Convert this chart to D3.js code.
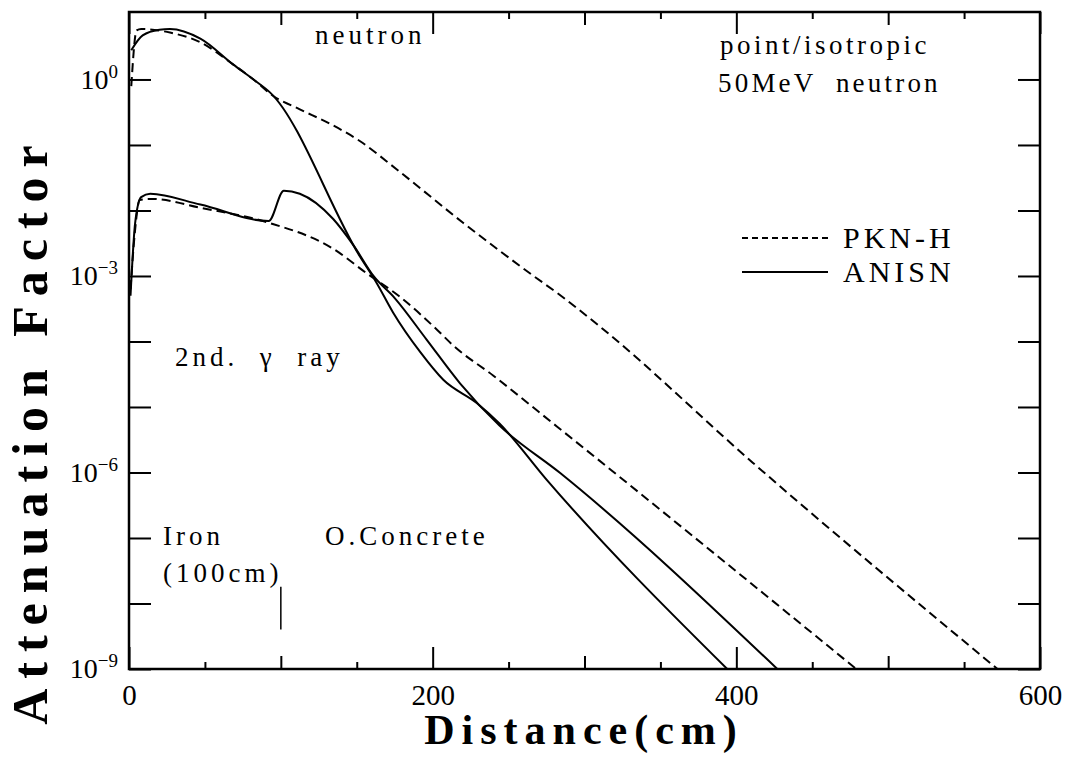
<!DOCTYPE html>
<html>
<head>
<meta charset="utf-8">
<script src="https://cdn.jsdelivr.net/npm/d3@7/dist/d3.min.js"></script>
<style>
    body { margin: 0; background: #fff; }
    text { font-family: "Liberation Serif", "Times New Roman", serif; fill: #000; }
</style>
</head>
<body>
<div id="chart"></div>
<script>
// values (distance in cm, attenuation factor)
const neutronPknX = [1.5, 5, 8, 27, 47, 68.5, 82, 95, 112.5, 132.5, 152, 176, 220, 264, 286, 310, 411, 572];
const neutronPknY = [0.79, 5.6, 5.9, 5.2, 3.7, 1.7, 1.0, 0.56, 0.35, 0.21, 0.115, 0.043, 6.5e-3, 1.1e-3, 4.7e-4, 1.7e-4, 1.4e-6, 1e-9];

const neutronAnisnX = [1.5, 9, 20, 27, 47, 68.5, 82, 93, 152, 163, 174, 192, 207, 229, 244, 275, 394];
const neutronAnisnY = [2.8, 4.7, 5.75, 5.9, 4.2, 1.7, 1.0, 0.63, 2.0e-3, 7.9e-4, 2.75e-4, 6.8e-5, 2.6e-5, 1.15e-5, 5.6e-6, 7.8e-7, 1e-9];

const gammaPknX = [1, 4, 7, 15, 47, 91, 134.5, 156.5, 178, 203, 213.5, 240, 282, 479];
const gammaPknY = [6.3e-4, 5.0e-3, 1.45e-2, 1.5e-2, 1.1e-2, 6.6e-3, 2.6e-3, 1.1e-3, 4.9e-4, 1.5e-4, 8.7e-5, 3.0e-5, 5.0e-6, 1e-9];

const gammaAnisnX = [1, 4, 8, 14, 47, 92, 102, 112.5, 134.5, 148, 161, 175, 196, 218, 244, 284, 427];
const gammaAnisnY = [5.0e-4, 6.3e-3, 1.6e-2, 1.8e-2, 1.23e-2, 6.9e-3, 2.0e-2, 1.8e-2, 7.4e-3, 2.9e-3, 1.0e-3, 4.6e-4, 1.07e-4, 2.3e-5, 5.2e-6, 9.8e-7, 1e-9];

const xTicks = [0, 50, 100, 150, 200, 250, 300, 350, 400, 450, 500, 550, 600];
const xLabels = [0, 200, 400, 600];
const yTicks = [1e-9, 1e-8, 1e-7, 1e-6, 1e-5, 1e-4, 1e-3, 1e-2, 1e-1, 1e0];
const yLabels = [1e-9, 1e-6, 1e-3, 1e0];

const legendNames = ['PKN-H', 'ANISN'];

drawChart();

function drawChart() {

    const width = 1070;
    const height = 758;
    const margin = {top: 12, right: 30, bottom: 89, left: 129};

    // SCALES
    const x = d3.scaleLinear()
        .domain([0, 600])
        .range([margin.left, width - margin.right]);

    // top of the frame sits a little above 10^1
    const y = d3.scaleLog()
        .domain([1e-9, Math.pow(10, 1.03)])
        .range([height - margin.bottom, margin.top]);

    const svg = d3.select('#chart').append('svg')
        .attr('width', width)
        .attr('height', height)
        .attr('viewBox', [0, 0, width, height]);

    svg.append('clipPath')
        .attr('id', 'plot-clip')
        .append('rect')
            .attr('x', margin.left)
            .attr('y', margin.top)
            .attr('width', width - margin.left - margin.right)
            .attr('height', height - margin.top - margin.bottom);

    // tick length depends on the distance value
    const xTickLen = d => (d % 200 === 0) ? 22 : (d % 100 === 0 ? 13 : 7);

    // AXES
    // bottom
    svg.append('g')
        .attr('transform', `translate(0,${height - margin.bottom})`)
        .call(d3.axisBottom(x)
                .tickValues(xTicks)
                .tickSize(0)
                .tickPadding(15)
                .tickFormat(d => xLabels.includes(d) ? d : ''))
        .call(g => g.select('.domain').remove())
        .call(g => g.selectAll('.tick line')
                .attr('stroke', '#000')
                .attr('stroke-width', 2)
                .attr('y2', d => -xTickLen(d)))
        .call(g => g.selectAll('.tick text')
                .attr('font-size', '29px')
                .attr('font-family', '"Liberation Serif", serif'));

    // top (ticks only)
    svg.append('g')
        .attr('transform', `translate(0,${margin.top})`)
        .call(d3.axisTop(x)
                .tickValues(xTicks)
                .tickSize(0)
                .tickFormat(''))
        .call(g => g.select('.domain').remove())
        .call(g => g.selectAll('.tick line')
                .attr('stroke', '#000')
                .attr('stroke-width', 2)
                .attr('y2', d => xTickLen(d)));

    // left
    svg.append('g')
        .attr('transform', `translate(${margin.left},0)`)
        .call(d3.axisLeft(y)
                .tickValues(yTicks)
                .tickSize(-22)
                .tickPadding(11)
                .tickFormat(d => yLabels.includes(d) ? 'x' : ''))
        .call(g => g.select('.domain').remove())
        .call(g => g.selectAll('.tick line')
                .attr('stroke', '#000')
                .attr('stroke-width', 2))
        .call(g => g.selectAll('.tick text')
                .attr('font-size', '28px')
                .attr('font-family', '"Liberation Serif", serif')
                .each(function(d) {
                    const t = d3.select(this);
                    if (!yLabels.includes(d)) { return; }
                    const e = Math.round(Math.log10(d));
                    t.text(null);
                    t.append('tspan').text('10');
                    t.append('tspan')
                        .attr('dy', '-11')
                        .attr('font-size', '19px')
                        .text(e < 0 ? '\u2212' + (-e) : e);
                }));

    // right (ticks only)
    svg.append('g')
        .attr('transform', `translate(${width - margin.right},0)`)
        .call(d3.axisRight(y)
                .tickValues(yTicks)
                .tickSize(-22)
                .tickFormat(''))
        .call(g => g.select('.domain').remove())
        .call(g => g.selectAll('.tick line')
                .attr('stroke', '#000')
                .attr('stroke-width', 2));

    // frame
    svg.append('rect')
        .attr('x', margin.left)
        .attr('y', margin.top)
        .attr('width', width - margin.left - margin.right)
        .attr('height', height - margin.top - margin.bottom)
        .attr('fill', 'none')
        .attr('stroke', '#000')
        .attr('stroke-width', 2.5);

    // CURVES
    const line = d3.line()
        .x(d => x(d[0]))
        .y(d => y(d[1]))
        .curve(d3.curveMonotoneX);

    const curves = [
        {xs: neutronPknX, ys: neutronPknY, dash: '9,5'},
        {xs: neutronAnisnX, ys: neutronAnisnY, dash: null},
        {xs: gammaPknX, ys: gammaPknY, dash: '9,5'},
        {xs: gammaAnisnX, ys: gammaAnisnY, dash: null}
    ];

    svg.append('g')
        .attr('clip-path', 'url(#plot-clip)')
        .selectAll('path')
        .data(curves)
        .join('path')
            .attr('d', c => line(d3.zip(c.xs, c.ys)))
            .attr('fill', 'none')
            .attr('stroke', '#000')
            .attr('stroke-width', 2)
            .attr('stroke-dasharray', c => c.dash);

    // iron / concrete boundary marker
    svg.append('line')
        .attr('x1', x(100))
        .attr('x2', x(100))
        .attr('y1', y(1.8e-8))
        .attr('y2', y(4e-9))
        .attr('stroke', '#000')
        .attr('stroke-width', 1.5);

    // LABELS inside the plot
    const note = (tx, ty, str, ls) => svg.append('text')
        .attr('x', tx)
        .attr('y', ty)
        .attr('font-size', '27px')
        .attr('letter-spacing', (ls || 4) + 'px')
        .style('white-space', 'pre')
        .text(str);

    note(315, 44, 'neutron');
    note(720, 54, 'point/isotropic', 3.5);
    note(718, 92, '50MeV  neutron', 3.2);
    note(175, 366, '2nd.  \u03b3  ray');
    note(163, 545, 'Iron');
    note(325, 545, 'O.Concrete');
    note(163, 582, '(100cm)');

    // LEGEND
    const legend = svg.append('g')
        .attr('transform', `translate(742, 238)`);
    legend.selectAll('line')
        .data(legendNames)
        .join('line')
            .attr('x1', 0)
            .attr('x2', 86)
            .attr('y1', (d, i) => i * 34)
            .attr('y2', (d, i) => i * 34)
            .attr('stroke', '#000')
            .attr('stroke-width', 2)
            .attr('stroke-dasharray', (d, i) => i === 0 ? '6,4' : null);
    legend.selectAll('text')
        .data(legendNames)
        .join('text')
            .attr('x', 101)
            .attr('y', (d, i) => i * 34 + 10)
            .attr('font-size', '30px')
            .attr('letter-spacing', '4px')
            .text(d => d);

    // AXIS TITLES
    svg.append('text')
        .attr('x', 584)
        .attr('y', 744)
        .attr('text-anchor', 'middle')
        .attr('font-size', '42px')
        .attr('font-weight', 'bold')
        .attr('letter-spacing', '7px')
        .text('Distance(cm)');

    svg.append('text')
        .attr('transform', 'translate(47, 430) rotate(-90)')
        .attr('text-anchor', 'middle')
        .attr('font-size', '50px')
        .attr('font-weight', 'bold')
        .attr('letter-spacing', '10px')
        .text('Attenuation Factor');
}
</script>
</body>
</html>
